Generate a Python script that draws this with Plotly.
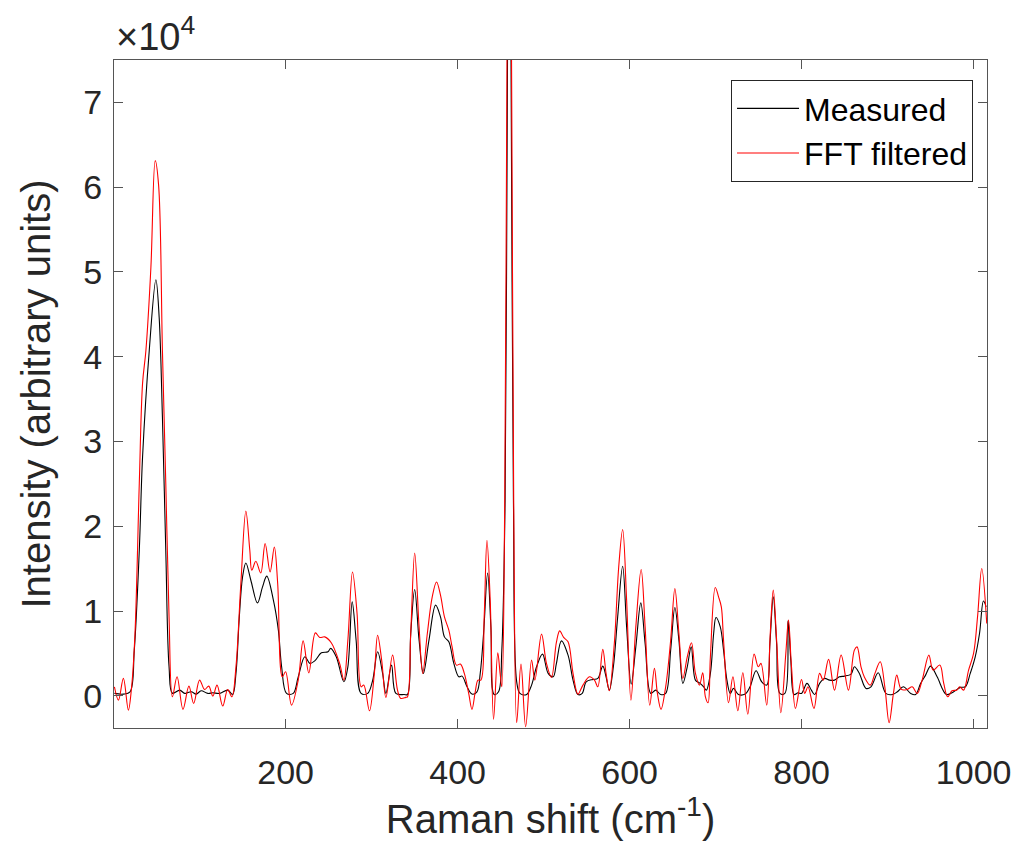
import plotly.graph_objects as go

# Raman shift (cm^-1), intensity pairs
measured_points = [
    (1, 280), (11.4, 200), (19.2, 470), (24.1, 5385), (29.9, 17170), (33.7, 28160), (41.5, 40740),
    (49.2, 49070), (53.0, 44660), (56.8, 32880), (60.7, 17170), (64.5, 3420), (68.4, 300), (76.9, 670),
    (82.7, 280), (90.3, 470), (96.1, 200), (101.8, 590), (109.6, 280), (115.4, 350), (123.1, 280),
    (132.7, 670), (138.4, 150), (142.3, 2640), (146.2, 9310), (150.0, 14020), (153.8, 15670),
    (159.6, 13630), (167.3, 10960), (173.1, 12810), (178.1, 14110), (185.8, 11280), (191.6, 7740),
    (195.4, 3420), (201.1, 280), (208.9, 280), (214.7, 2240), (222.4, 4600), (228.2, 3820),
    (233.9, 4120), (241.6, 5070), (249.3, 5190), (252.4, 5590), (258.9, 4600), (267.8, 1650),
    (272.4, 3420), (277.4, 11080), (282.0, 6560), (287.8, 280), (295.5, 280), (301.3, 1850),
    (307.0, 5190), (312.8, 2640), (316.6, 280), (323.2, 3620), (328.2, 280), (337.9, 150),
    (341.7, 150), (345.5, 7350), (350.1, 12540), (355.2, 6560), (360.2, 2640), (366.7, 6560),
    (374.4, 10690), (380.1, 9310), (384.7, 6950), (389.8, 6360), (395.6, 3820), (401.4, 2240),
    (405.2, 2320), (411.0, 1060), (416.7, 200), (422.5, 470), (426.3, 2640), (430.2, 7350),
    (434.9, 14490), (438.7, 8130), (442.5, 150), (447.6, 470), (451.4, 5385), (455.2, 23060),
    (458.0, 75000), (460.0, 95000), (462.1, 75000), (464.9, 23060), (468.7, 1650), (472.5, 280),
    (480.2, 150), (486.0, 1260), (491.8, 3420), (498.7, 4910), (505.3, 2640), (511.1, 2240),
    (514.9, 3820), (520.7, 6480), (528.4, 4800), (534.2, 1850), (539.9, 150), (544.9, 280),
    (549.5, 1650), (557.3, 1930), (563.0, 2050), (568.8, 3500), (572.6, 2240), (576.4, 670),
    (581.1, 3420), (586.1, 9310), (591.9, 15280), (596.5, 8130), (601.8, 1380), (607.2, 5770),
    (613.0, 10960), (618.0, 6170), (624.6, 280), (630.3, 670), (636.1, 150), (641.9, 280),
    (647.7, 5385), (652.6, 10420), (657.3, 6560), (661.9, 1460), (667.0, 3420), (671.6, 5770),
    (676.5, 1850), (681.2, 1530), (686.1, 1060), (689.2, 670), (693.9, 2640), (697.7, 7350),
    (700.4, 9240), (705.4, 8130), (709.2, 5385), (713.1, 1850), (717.0, 280), (720.8, 870),
    (726.5, 150), (734.3, 200), (740.0, 1060), (747.0, 2950), (753.6, 1650), (759.4, 1260),
    (763.1, 6170), (767.0, 11670), (770.9, 6170), (774.7, 280), (780.5, 280), (784.3, 8840),
    (787.4, 4210), (791.2, 150), (795.8, 350), (799.8, 280), (806.2, 1460), (811.3, 670),
    (815.1, 150), (820.9, 1460), (826.6, 2050), (832.4, 1850), (838.2, 1850), (844.0, 2240),
    (849.7, 2320), (857.5, 2560), (861.3, 3420), (867.1, 2640), (874.8, 870), (880.6, 1060),
    (889.0, 2710), (897.9, 280), (905.5, 150), (911.3, 470), (918.2, 1060), (926.8, 280),
    (932.5, 150), (938.3, 1460), (944.1, 2440), (949.9, 3500), (957.5, 2240), (968.3, 150),
    (976.8, 470), (984.5, 990), (990.3, 1060), (996.0, 2640), (1001.8, 4600), (1006.8, 7350),
    (1011.4, 11190), (1014.5, 10490),
]

filtered_points = [
    (1, 1060), (5.7, -510), (11.4, 2050), (17.2, -1690), (21.0, 1060), (24.9, 7350), (29.9, 25060),
    (33.7, 36850), (37.6, 40740), (43.4, 50550), (48.4, 63130), (52.4, 60180), (56.8, 40740),
    (60.7, 25060), (64.5, 9310), (68.4, -120), (73.8, 2240), (80.7, -1600), (87.6, 1140),
    (93.1, -900), (100.0, 1850), (105.8, 750), (110.7, 1140), (115.4, -40), (120.3, 1260),
    (126.9, -1210), (132.7, 750), (137.6, -120), (142.3, 3420), (148.0, 13250), (153.8, 21800),
    (158.4, 17170), (160.7, 14810), (165.4, 15870), (171.1, 14490), (176.2, 17960), (182.0, 14610),
    (186.9, 17560), (190.8, 13250), (196.2, 2240), (200.0, 2830), (206.9, -1100), (214.7, 1850),
    (220.4, 6480), (227.0, 2710), (234.6, 7420), (239.7, 6880), (245.5, 6950), (253.1, 6250),
    (262.8, 3820), (267.8, 1850), (272.4, 6560), (277.8, 14610), (283.1, 9710), (287.8, 1060),
    (290.9, 1260), (297.5, -1770), (303.2, 2640), (307.0, 7150), (311.7, 4210), (316.6, -190),
    (324.4, 4800), (330.1, 670), (333.9, -310), (339.7, -190), (341.7, -120), (345.5, 7350),
    (350.1, 16850), (355.2, 8130), (359.4, 2640), (364.8, 7350), (370.5, 11670), (375.5, 13430),
    (380.1, 11870), (384.7, 9310), (389.8, 7740), (393.6, 5770), (398.6, 3620), (403.2, 3740),
    (407.8, 2640), (412.9, 280), (416.7, -1600), (420.5, 470), (423.7, 1850), (427.1, 1850),
    (430.9, 9310), (434.1, 18350), (437.9, 11280), (441.8, -2780), (446.7, 5070), (449.4, 2640),
    (451.4, 1060), (454.8, 23060), (457.4, 75000), (460.0, 105000), (462.7, 75000), (465.2, 23060),
    (468.7, -3180), (473.7, 3740), (479.1, -3650), (486.0, 4210), (489.8, 1850), (497.6, 7270),
    (503.3, 3820), (509.1, 2170), (514.9, 6330), (518.7, 7660), (523.3, 6880), (528.4, 6360),
    (534.2, 2640), (539.9, 200), (545.7, 1260), (553.3, 2240), (559.1, 1850), (563.0, 1060),
    (568.8, 5470), (572.6, 2640), (576.4, 590), (582.2, 6170), (587.3, 15200), (591.9, 19610),
    (596.5, 11280), (601.5, -510), (607.2, 8130), (613.4, 14900), (618.0, 8130), (623.4, -1100),
    (628.8, 3230), (632.3, 280), (636.5, -1600), (641.9, 1060), (647.7, 6560), (652.6, 12660),
    (657.3, 7350), (661.9, 2050), (667.0, 4600), (671.9, 6250), (676.5, 2640), (681.2, 1260),
    (685.0, 2710), (688.1, -120), (691.2, -820), (693.9, 4600), (699.6, 12770), (703.4, 11670),
    (706.6, 10490), (709.2, 6560), (715.0, -820), (720.1, 2240), (725.8, -1770), (731.6, 2710),
    (737.4, -2160), (744.7, 4910), (749.6, 3420), (752.7, 3820), (759.4, -1100), (763.5, 7350),
    (767.0, 12460), (770.9, 6560), (775.8, -2000), (781.6, 5000), (784.7, 8920), (788.2, 3420),
    (792.8, -1480), (799.8, 1930), (803.6, 280), (807.4, 1060), (814.3, -1480), (820.9, 2640),
    (825.1, 1850), (831.3, 4290), (838.2, 670), (845.9, 4800), (854.4, 670), (861.3, 5385),
    (864.4, 5770), (869.0, 3420), (872.8, 2240), (879.8, 1260), (885.2, 2640), (891.3, 4010),
    (896.7, 1060), (901.7, -3180), (906.7, 280), (910.6, 2440), (915.9, 750), (922.8, 750),
    (928.6, 1060), (934.4, 280), (940.1, 1850), (947.9, 4800), (952.9, 3030), (960.6, 3620),
    (965.2, 1460), (969.8, -120), (974.8, 590), (980.6, 670), (983.7, 1060), (988.3, 670),
    (994.1, 3030), (999.9, 5000), (1004.5, 9310), (1009.4, 15010), (1015.2, 8530),
]

x_tick_values = [200, 400, 600, 800, 1000]
y_tick_values = [0, 10000, 20000, 30000, 40000, 50000, 60000, 70000]
y_tick_labels = ["0", "1", "2", "3", "4", "5", "6", "7"]

mx = [p[0] for p in measured_points]
my = [p[1] for p in measured_points]
fx = [p[0] for p in filtered_points]
fy = [p[1] for p in filtered_points]

FONT = "Liberation Sans, Arial, Helvetica, sans-serif"
AXC = "#262626"

fig = go.Figure()
fig.add_trace(go.Scatter(x=mx, y=my, mode="lines", name="Measured",
                         line=dict(color="black", width=1.1, shape="spline", smoothing=1.0)))
fig.add_trace(go.Scatter(x=fx, y=fy, mode="lines", name="FFT filtered",
                         line=dict(color="#ff0000", width=1.1, shape="spline", smoothing=1.0)))

axis_common = dict(showline=True, linecolor="#555555", linewidth=1, mirror="ticks",
                   ticks="inside", ticklen=9, tickcolor="#555555", tickwidth=1,
                   showgrid=False, zeroline=False,
                   tickfont=dict(family=FONT, size=34, color=AXC))

fig.update_xaxes(range=[0.5, 1015.5], tickvals=x_tick_values, ticklabelstandoff=14,
                 title=dict(text="Raman shift (cm<sup>-1</sup>)", font=dict(family=FONT, size=40, color=AXC), standoff=14),
                 **axis_common)
fig.update_yaxes(range=[-3800, 75000], tickvals=y_tick_values, ticktext=y_tick_labels, ticklabelstandoff=4,
                 title=dict(text="Intensity (arbitrary units)", font=dict(family=FONT, size=40, color=AXC), standoff=20),
                 **axis_common)

fig.add_annotation(xref="paper", yref="paper", x=0, y=1, xanchor="left", yanchor="bottom",
                   xshift=0, yshift=0, showarrow=False,
                   text="×10<sup>4</sup>", font=dict(family=FONT, size=38, color=AXC))

fig.update_layout(
    width=1015, height=837,
    margin=dict(l=106, r=30, t=52, b=117),
    plot_bgcolor="white", paper_bgcolor="white",
    showlegend=True,
    legend=dict(x=0.984, y=0.970, xanchor="right", yanchor="top",
                bgcolor="white", bordercolor="#262626", borderwidth=1,
                font=dict(family=FONT, size=32, color="black"),
                itemwidth=62, tracegroupgap=0),
)

fig.write_html("out.html")
